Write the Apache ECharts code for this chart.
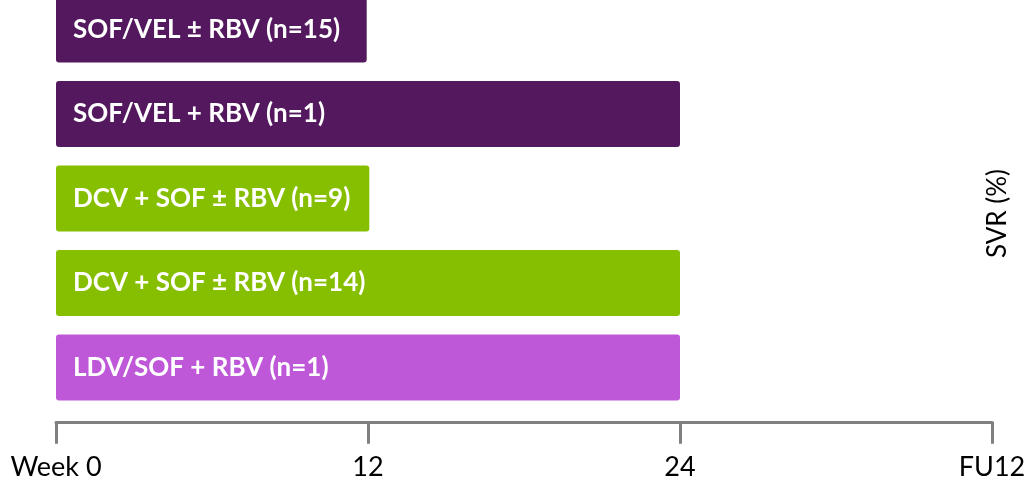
<!DOCTYPE html>
<html>
<head>
<meta charset="utf-8">
<style>html,body{margin:0;padding:0;background:#fff;}#c{width:1029px;height:478px;}</style>
<script src="https://cdn.jsdelivr.net/npm/echarts@6/dist/echarts.min.js"></script>
</head>
<body>
<div id="c"></div>
<script>
const regimens = ["SOF/VEL ± RBV (n=15)", "SOF/VEL + RBV (n=1)", "DCV + SOF ± RBV (n=9)", "DCV + SOF ± RBV (n=14)", "LDV/SOF + RBV (n=1)"];
const durationWeeks = [11.95, 24, 12.05, 24, 24];
const barColors = ["#54185E", "#54185E", "#86BE00", "#86BE00", "#BF58D8"];
const tickValues = [0, 12, 24, 36];
const tickLabels = ["Week 0", "12", "24", "FU12"];
const sideLabel = "SVR (%)";

const chart = echarts.init(document.getElementById('c'), null, {renderer: 'canvas'});
chart.setOption({
  backgroundColor: '#ffffff',
  animation: false,
  grid: {left: 56, right: 37, top: -12.75, bottom: 68.25, containLabel: false, outerBoundsMode: 'none'},
  xAxis: {
    type: 'value', min: 0, max: 36, interval: 12, offset: 12,
    axisLine: {show: true, lineStyle: {color: '#808080', width: 3}},
    axisTick: {show: true, length: 22, inside: false, lineStyle: {color: '#808080', width: 3}},
    splitLine: {show: false},
    axisLabel: {
      margin: 32, color: '#000', fontFamily: 'Lato', fontSize: 27,
      formatter: v => tickLabels[tickValues.indexOf(v)]
    }
  },
  yAxis: {
    type: 'category', data: regimens, inverse: true,
    axisLine: {show: false}, axisTick: {show: false}, axisLabel: {show: false}
  },
  graphic: [{
    type: 'text', left: 985, top: 169, rotation: Math.PI / 2,
    style: {text: sideLabel, fill: '#000', font: '26px Lato'}
  }],
  series: [{
    type: 'bar', barWidth: 66,
    data: durationWeeks.map((v, i) => ({value: v, itemStyle: {color: barColors[i]}})),
    itemStyle: {borderRadius: 3},
    label: {
      show: true, position: 'insideLeft', distance: 17,
      color: '#fff', fontFamily: 'Lato', fontWeight: 'bold', fontSize: 26,
      formatter: p => regimens[p.dataIndex]
    }
  }]
});
</script>
</body>
</html>
